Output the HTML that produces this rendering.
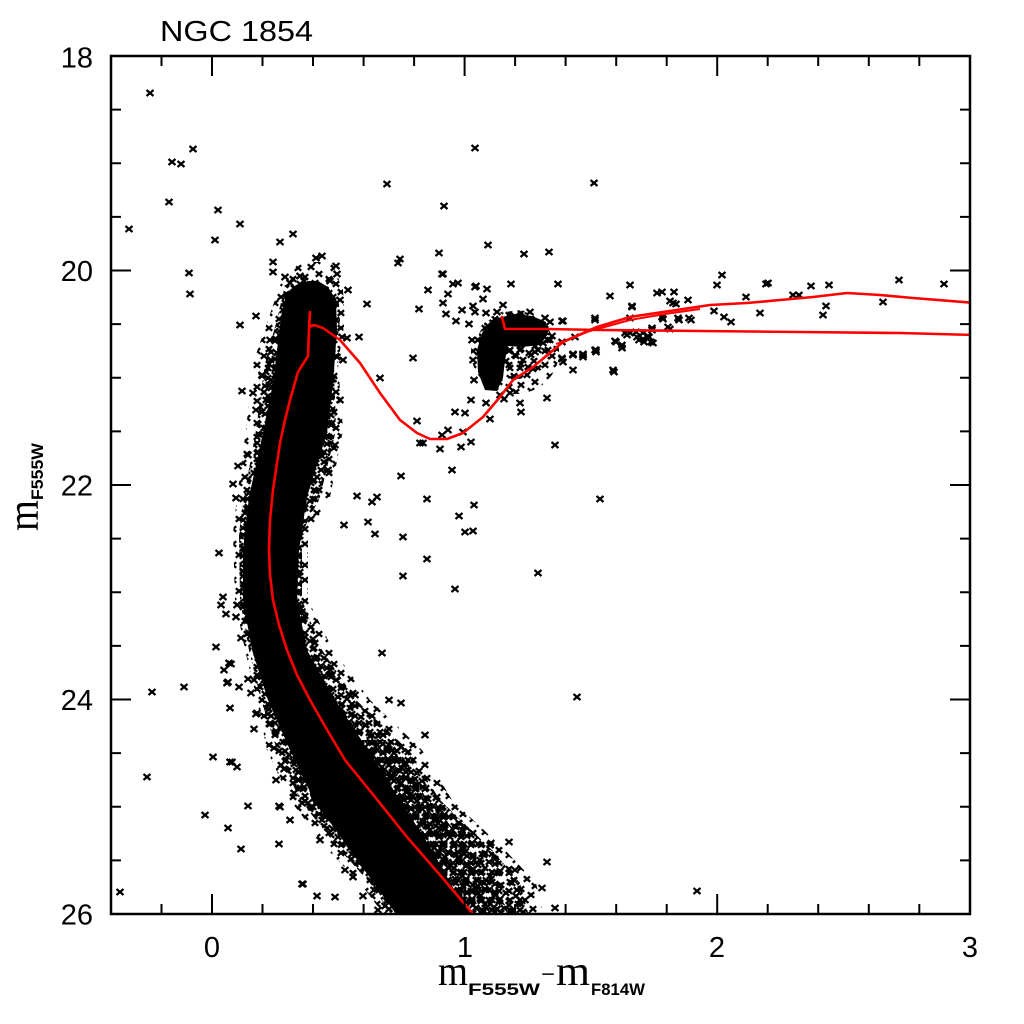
<!DOCTYPE html>
<html><head><meta charset="utf-8">
<style>
html,body{margin:0;padding:0;background:#fff;}
svg{display:block;}
</style></head>
<body>
<svg width="1024" height="1024" viewBox="0 0 1024 1024" xmlns="http://www.w3.org/2000/svg" xmlns:xlink="http://www.w3.org/1999/xlink">
<rect x="0" y="0" width="1024" height="1024" fill="#fff"/>
<defs>
  <clipPath id="cp"><rect x="111" y="56" width="859" height="858"/></clipPath>
  <path id="m" d="M-3.5,-3l7,6m-7,0l7,-6" stroke="#000" stroke-width="2.2" fill="none"/>
  <pattern id="pA" width="36" height="36" patternUnits="userSpaceOnUse">
    <path fill="none" stroke="#000" stroke-width="2.3" d="M1.8,2.2l6.4,5.6m-6.4,0l6.4,-5.6M13.8,1.2l6.4,5.6m-6.4,0l6.4,-5.6M25.8,6.2l6.4,5.6m-6.4,0l6.4,-5.6M6.8,13.2l6.4,5.6m-6.4,0l6.4,-5.6M19.8,12.2l6.4,5.6m-6.4,0l6.4,-5.6M27.8,19.2l6.4,5.6m-6.4,0l6.4,-5.6M1.8,24.2l6.4,5.6m-6.4,0l6.4,-5.6M13.8,22.2l6.4,5.6m-6.4,0l6.4,-5.6M23.8,28.2l6.4,5.6m-6.4,0l6.4,-5.6M8.8,29.2l6.4,5.6m-6.4,0l6.4,-5.6"/>
  </pattern>
  <pattern id="pA2" width="36" height="36" patternUnits="userSpaceOnUse" patternTransform="translate(17,13)">
    <path fill="none" stroke="#000" stroke-width="2.3" d="M1.8,2.2l6.4,5.6m-6.4,0l6.4,-5.6M13.8,1.2l6.4,5.6m-6.4,0l6.4,-5.6M25.8,6.2l6.4,5.6m-6.4,0l6.4,-5.6M6.8,13.2l6.4,5.6m-6.4,0l6.4,-5.6M19.8,12.2l6.4,5.6m-6.4,0l6.4,-5.6M27.8,19.2l6.4,5.6m-6.4,0l6.4,-5.6M1.8,24.2l6.4,5.6m-6.4,0l6.4,-5.6M13.8,22.2l6.4,5.6m-6.4,0l6.4,-5.6M23.8,28.2l6.4,5.6m-6.4,0l6.4,-5.6M8.8,29.2l6.4,5.6m-6.4,0l6.4,-5.6"/>
  </pattern>
  <pattern id="pB" width="28" height="28" patternUnits="userSpaceOnUse">
    <path fill="none" stroke="#000" stroke-width="2.3" d="M1.8,2.2l6.4,5.6m-6.4,0l6.4,-5.6M10.8,5.2l6.4,5.6m-6.4,0l6.4,-5.6M19.8,2.2l6.4,5.6m-6.4,0l6.4,-5.6M4.8,12.2l6.4,5.6m-6.4,0l6.4,-5.6M15.8,13.2l6.4,5.6m-6.4,0l6.4,-5.6M19.8,20.2l6.4,5.6m-6.4,0l6.4,-5.6M1.8,20.2l6.4,5.6m-6.4,0l6.4,-5.6M9.8,19.2l6.4,5.6m-6.4,0l6.4,-5.6"/>
  </pattern>
  <pattern id="pB2" width="28" height="28" patternUnits="userSpaceOnUse" patternTransform="translate(11,9)">
    <path fill="none" stroke="#000" stroke-width="2.3" d="M1.8,2.2l6.4,5.6m-6.4,0l6.4,-5.6M10.8,5.2l6.4,5.6m-6.4,0l6.4,-5.6M19.8,2.2l6.4,5.6m-6.4,0l6.4,-5.6M4.8,12.2l6.4,5.6m-6.4,0l6.4,-5.6M15.8,13.2l6.4,5.6m-6.4,0l6.4,-5.6M19.8,20.2l6.4,5.6m-6.4,0l6.4,-5.6M1.8,20.2l6.4,5.6m-6.4,0l6.4,-5.6M9.8,19.2l6.4,5.6m-6.4,0l6.4,-5.6"/>
  </pattern>
  <pattern id="pB3" width="28" height="28" patternUnits="userSpaceOnUse" patternTransform="translate(5,17)">
    <path fill="none" stroke="#000" stroke-width="2.3" d="M1.8,2.2l6.4,5.6m-6.4,0l6.4,-5.6M10.8,5.2l6.4,5.6m-6.4,0l6.4,-5.6M19.8,2.2l6.4,5.6m-6.4,0l6.4,-5.6M4.8,12.2l6.4,5.6m-6.4,0l6.4,-5.6M15.8,13.2l6.4,5.6m-6.4,0l6.4,-5.6M19.8,20.2l6.4,5.6m-6.4,0l6.4,-5.6M1.8,20.2l6.4,5.6m-6.4,0l6.4,-5.6M9.8,19.2l6.4,5.6m-6.4,0l6.4,-5.6"/>
  </pattern>
</defs>

<g clip-path="url(#cp)">
  <!-- main sequence halo -->
  <polygon fill="url(#pA)" points="300,262 280,285 268,320 253,363 246,430 237,497 233,533 235,600 245,650 257,700 267,750 290,800 328,850 360,883 388,920 545,920 536,883 505,850 452,800 422,750 370,700 333,650 308,600 308,533 330,497 343,430 338,363 345,320 343,290 332,262"/>
  <!-- middle -->
  <polygon fill="url(#pB)" points="285,285 277,320 265,363 256,430 244,497 239,533 240,600 249,650 261,700 277,750 300,800 340,850 370,883 395,920 530,920 520,883 492,850 440,800 408,750 356,700 322,650 302,600 302,533 320,497 336,430 334,363 340,320 338,290"/>
  <polygon fill="url(#pB2)" points="285,285 277,320 265,363 256,430 244,497 239,533 240,600 249,650 261,700 277,750 300,800 340,850 370,883 395,920 530,920 520,883 492,850 440,800 408,750 356,700 322,650 302,600 302,533 320,497 336,430 334,363 340,320 338,290"/>
  <!-- lower dense -->
  <polygon fill="url(#pA2)" points="290,740 312,800 352,850 385,890 398,920 515,920 495,890 470,850 430,800 392,740"/>
  <polygon fill="url(#pB3)" points="290,740 312,800 352,850 385,890 398,920 515,920 495,890 470,850 430,800 392,740"/>
  <!-- core -->
  <polygon fill="#000" points="308,281 296,285 286,295 281,317 273,383 263,433 249,497 243,550 243,600 252,650 268,700 290,750 314,800 350,850 386,900 396,914 476,914 460,900 432,850 400,800 368,750 335,700 307,650 297,600 299,550 307,497 327,433 333,383 337,330 336,300 328,287 318,281"/>
  <!-- red clump -->
  <ellipse cx="515" cy="352" rx="44" ry="42" fill="url(#pA)"/>
  <ellipse cx="515" cy="345" rx="38" ry="34" fill="url(#pB2)"/>
  <polygon fill="#000" points="498,318 515,314 532,316 546,322 548,334 540,345 522,347 508,346 505,360 503,378 497,391 485,390 478,372 477,350 482,333 490,323"/>

  <!-- individual stars -->
  <g>
<use href="#m" x="150" y="93"/><use href="#m" x="193" y="149"/><use href="#m" x="172" y="162"/><use href="#m" x="181" y="164"/><use href="#m" x="169" y="202"/><use href="#m" x="218" y="210"/><use href="#m" x="129" y="229"/><use href="#m" x="240" y="224"/><use href="#m" x="215" y="240"/><use href="#m" x="189" y="273"/><use href="#m" x="190" y="294"/>
<use href="#m" x="280" y="242"/><use href="#m" x="293" y="234"/><use href="#m" x="273" y="262"/><use href="#m" x="273" y="272"/><use href="#m" x="285" y="277"/><use href="#m" x="304" y="281"/><use href="#m" x="316" y="258"/><use href="#m" x="322" y="256"/><use href="#m" x="336" y="266"/><use href="#m" x="337" y="274"/><use href="#m" x="348" y="290"/><use href="#m" x="367" y="304"/><use href="#m" x="240" y="325"/><use href="#m" x="256" y="316"/><use href="#m" x="337" y="357"/><use href="#m" x="343" y="360"/><use href="#m" x="342" y="337"/><use href="#m" x="347" y="338"/><use href="#m" x="359" y="337"/><use href="#m" x="333" y="379"/><use href="#m" x="242" y="391"/><use href="#m" x="253" y="393"/><use href="#m" x="238" y="466"/><use href="#m" x="233" y="484"/><use href="#m" x="236" y="498"/>
<use href="#m" x="296" y="292"/><use href="#m" x="310" y="286"/><use href="#m" x="325" y="290"/><use href="#m" x="318" y="300"/><use href="#m" x="288" y="300"/><use href="#m" x="270" y="340"/><use href="#m" x="262" y="375"/><use href="#m" x="256" y="410"/><use href="#m" x="340" y="400"/><use href="#m" x="335" y="445"/><use href="#m" x="328" y="470"/><use href="#m" x="248" y="455"/><use href="#m" x="300" y="276"/><use href="#m" x="290" y="283"/><use href="#m" x="330" y="281"/><use href="#m" x="340" y="300"/>
<use href="#m" x="387" y="184"/><use href="#m" x="444" y="206"/><use href="#m" x="475" y="148"/><use href="#m" x="594" y="183"/><use href="#m" x="400" y="259"/><use href="#m" x="398" y="263"/><use href="#m" x="439" y="253"/><use href="#m" x="442" y="274"/><use href="#m" x="458" y="283"/><use href="#m" x="488" y="245"/><use href="#m" x="524" y="254"/><use href="#m" x="549" y="252"/><use href="#m" x="511" y="284"/><use href="#m" x="558" y="284"/><use href="#m" x="476" y="286"/><use href="#m" x="443" y="274"/><use href="#m" x="428" y="290"/><use href="#m" x="453" y="284"/><use href="#m" x="448" y="294"/><use href="#m" x="443" y="303"/><use href="#m" x="475" y="287"/><use href="#m" x="487" y="289"/><use href="#m" x="483" y="299"/><use href="#m" x="473" y="306"/><use href="#m" x="475" y="312"/><use href="#m" x="462" y="310"/><use href="#m" x="446" y="314"/><use href="#m" x="456" y="321"/><use href="#m" x="469" y="324"/><use href="#m" x="486" y="313"/><use href="#m" x="503" y="305"/><use href="#m" x="419" y="309"/><use href="#m" x="563" y="321"/><use href="#m" x="595" y="318"/><use href="#m" x="595" y="350"/><use href="#m" x="562" y="358"/><use href="#m" x="573" y="355"/><use href="#m" x="583" y="355"/><use href="#m" x="563" y="362"/><use href="#m" x="573" y="370"/><use href="#m" x="547" y="398"/><use href="#m" x="520" y="403"/><use href="#m" x="521" y="412"/><use href="#m" x="510" y="393"/><use href="#m" x="504" y="399"/><use href="#m" x="486" y="403"/><use href="#m" x="471" y="400"/><use href="#m" x="490" y="419"/><use href="#m" x="455" y="412"/><use href="#m" x="465" y="413"/><use href="#m" x="448" y="430"/><use href="#m" x="442" y="435"/><use href="#m" x="463" y="432"/><use href="#m" x="471" y="442"/><use href="#m" x="461" y="447"/><use href="#m" x="440" y="449"/><use href="#m" x="420" y="443"/><use href="#m" x="423" y="443"/><use href="#m" x="417" y="421"/><use href="#m" x="380" y="378"/><use href="#m" x="413" y="358"/><use href="#m" x="401" y="476"/><use href="#m" x="452" y="470"/><use href="#m" x="555" y="445"/><use href="#m" x="427" y="499"/><use href="#m" x="474" y="505"/><use href="#m" x="459" y="516"/><use href="#m" x="357" y="496"/><use href="#m" x="377" y="497"/><use href="#m" x="372" y="502"/><use href="#m" x="368" y="522"/><use href="#m" x="344" y="525"/><use href="#m" x="600" y="499"/>
<use href="#m" x="375" y="534"/><use href="#m" x="403" y="537"/><use href="#m" x="465" y="532"/><use href="#m" x="473" y="531"/><use href="#m" x="427" y="559"/><use href="#m" x="403" y="576"/><use href="#m" x="455" y="589"/><use href="#m" x="538" y="573"/><use href="#m" x="219" y="553"/><use href="#m" x="382" y="653"/><use href="#m" x="577" y="697"/><use href="#m" x="389" y="700"/><use href="#m" x="401" y="703"/><use href="#m" x="216" y="647"/><use href="#m" x="223" y="597"/><use href="#m" x="213" y="757"/><use href="#m" x="205" y="815"/><use href="#m" x="228" y="828"/><use href="#m" x="241" y="849"/><use href="#m" x="248" y="806"/><use href="#m" x="279" y="806"/><use href="#m" x="279" y="844"/><use href="#m" x="303" y="884"/><use href="#m" x="317" y="896"/><use href="#m" x="335" y="897"/><use href="#m" x="353" y="877"/><use href="#m" x="363" y="896"/><use href="#m" x="374" y="890"/><use href="#m" x="385" y="906"/><use href="#m" x="425" y="735"/><use href="#m" x="509" y="842"/><use href="#m" x="547" y="862"/><use href="#m" x="542" y="888"/><use href="#m" x="555" y="908"/><use href="#m" x="230" y="708"/><use href="#m" x="230" y="762"/><use href="#m" x="237" y="767"/><use href="#m" x="257" y="713"/><use href="#m" x="254" y="729"/><use href="#m" x="227" y="683"/><use href="#m" x="229" y="663"/><use href="#m" x="239" y="687"/>
<use href="#m" x="221" y="605"/><use href="#m" x="226" y="614"/><use href="#m" x="236" y="617"/><use href="#m" x="237" y="605"/><use href="#m" x="241" y="638"/><use href="#m" x="224" y="670"/><use href="#m" x="231" y="664"/><use href="#m" x="228" y="682"/><use href="#m" x="184" y="687"/><use href="#m" x="152" y="692"/><use href="#m" x="248" y="679"/><use href="#m" x="254" y="680"/><use href="#m" x="251" y="693"/><use href="#m" x="256" y="714"/><use href="#m" x="270" y="724"/><use href="#m" x="274" y="748"/><use href="#m" x="232" y="762"/><use href="#m" x="284" y="769"/><use href="#m" x="289" y="755"/><use href="#m" x="147" y="777"/><use href="#m" x="294" y="793"/><use href="#m" x="298" y="780"/><use href="#m" x="302" y="803"/><use href="#m" x="308" y="803"/><use href="#m" x="280" y="807"/><use href="#m" x="302" y="884"/><use href="#m" x="120" y="892"/><use href="#m" x="697" y="891"/>
<use href="#m" x="340" y="720"/><use href="#m" x="372" y="735"/><use href="#m" x="395" y="760"/><use href="#m" x="415" y="785"/><use href="#m" x="440" y="810"/><use href="#m" x="462" y="830"/><use href="#m" x="490" y="845"/><use href="#m" x="515" y="870"/><use href="#m" x="525" y="900"/><use href="#m" x="330" y="670"/><use href="#m" x="355" y="695"/><use href="#m" x="276" y="780"/><use href="#m" x="290" y="820"/><use href="#m" x="320" y="840"/><use href="#m" x="345" y="870"/><use href="#m" x="378" y="910"/>
<use href="#m" x="583" y="357"/><use href="#m" x="596" y="352"/><use href="#m" x="595" y="320"/><use href="#m" x="610" y="296"/><use href="#m" x="630" y="285"/><use href="#m" x="632" y="307"/><use href="#m" x="614" y="372"/><use href="#m" x="616" y="342"/><use href="#m" x="622" y="348"/><use href="#m" x="627" y="335"/><use href="#m" x="636" y="332"/><use href="#m" x="639" y="340"/><use href="#m" x="644" y="342"/><use href="#m" x="649" y="337"/><use href="#m" x="652" y="330"/><use href="#m" x="653" y="343"/><use href="#m" x="657" y="293"/><use href="#m" x="662" y="292"/><use href="#m" x="674" y="292"/><use href="#m" x="670" y="301"/><use href="#m" x="676" y="304"/><use href="#m" x="663" y="319"/><use href="#m" x="670" y="329"/><use href="#m" x="679" y="320"/><use href="#m" x="688" y="300"/><use href="#m" x="691" y="320"/><use href="#m" x="717" y="285"/><use href="#m" x="722" y="275"/><use href="#m" x="714" y="311"/><use href="#m" x="724" y="317"/><use href="#m" x="731" y="322"/><use href="#m" x="746" y="297"/><use href="#m" x="760" y="313"/><use href="#m" x="766" y="284"/><use href="#m" x="768" y="283"/><use href="#m" x="793" y="295"/><use href="#m" x="799" y="295"/><use href="#m" x="811" y="286"/><use href="#m" x="829" y="285"/><use href="#m" x="826" y="306"/><use href="#m" x="823" y="315"/><use href="#m" x="883" y="302"/><use href="#m" x="899" y="280"/><use href="#m" x="944" y="284"/>
<use href="#m" x="632" y="306"/><use href="#m" x="673" y="303"/><use href="#m" x="562" y="321"/><use href="#m" x="630" y="318"/><use href="#m" x="662" y="317"/><use href="#m" x="678" y="318"/><use href="#m" x="689" y="318"/><use href="#m" x="668" y="327"/><use href="#m" x="652" y="328"/><use href="#m" x="630" y="333"/><use href="#m" x="625" y="333"/><use href="#m" x="615" y="341"/><use href="#m" x="622" y="345"/><use href="#m" x="637" y="337"/><use href="#m" x="643" y="339"/><use href="#m" x="648" y="336"/><use href="#m" x="651" y="342"/><use href="#m" x="643" y="333"/><use href="#m" x="562" y="342"/><use href="#m" x="575" y="337"/><use href="#m" x="573" y="354"/><use href="#m" x="583" y="354"/><use href="#m" x="596" y="350"/><use href="#m" x="562" y="359"/><use href="#m" x="613" y="370"/><use href="#m" x="543" y="343"/>
<use href="#m" x="550" y="322"/><use href="#m" x="552" y="336"/><use href="#m" x="497" y="312"/><use href="#m" x="530" y="312"/><use href="#m" x="472" y="340"/><use href="#m" x="473" y="360"/><use href="#m" x="474" y="380"/><use href="#m" x="500" y="395"/><use href="#m" x="535" y="352"/><use href="#m" x="515" y="355"/><use href="#m" x="488" y="326"/><use href="#m" x="479" y="352"/><use href="#m" x="545" y="318"/>
  </g>

  <!-- isochrone -->
  <path fill="none" stroke="#ff0000" stroke-width="2.6" stroke-linejoin="round" stroke-linecap="round"
    d="M473,914 L440,875 L407,837 L375,797 L345,760 L326,728 L310,700 L297,675 L287,650 L279,625 L273,600 L270,575 L269,550 L270,520 L273,490 L277,463 L280,443 L285,420 L290,400 L298,372 L308,356 L309,330 L310,312 L309,327 L314,325 L323,328 L340,340 L360,363 L380,393 L400,420 L417,433 L430,439 L447,439 L463,433 L483,417 L500,397 L513,380 L533,367 L563,342 L597,327 L630,317 L663,312 L710,305 L747,303 L780,300 L813,297 L847,293 L880,295 L913,298 L975,303"/>
  <path fill="none" stroke="#ff0000" stroke-width="2.6" stroke-linejoin="round" stroke-linecap="round"
    d="M502,317 L505,329 L547,329 L600,330 L700,331 L800,332 L900,333 L975,335"/>
  <path fill="none" stroke="#ff0000" stroke-width="2" stroke-linejoin="round"
    d="M556,344 L590,331 L630,320 L665,314 L700,309"/>
</g>

<!-- frame -->
<rect x="111" y="56" width="859" height="858" fill="none" stroke="#000" stroke-width="2.5"/>
<path fill="none" stroke="#000" stroke-width="2" d="
M161.5,914v-10M161.5,56v10
M212,914v-20M212,56v20
M262.5,914v-10M262.5,56v10
M313,914v-10M313,56v10
M363.6,914v-10M363.6,56v10
M414.1,914v-10M414.1,56v10
M464.6,914v-20M464.6,56v20
M515.1,914v-10M515.1,56v10
M565.6,914v-10M565.6,56v10
M616.2,914v-10M616.2,56v10
M666.7,914v-10M666.7,56v10
M717.2,914v-20M717.2,56v20
M767.7,914v-10M767.7,56v10
M818.2,914v-10M818.2,56v10
M868.8,914v-10M868.8,56v10
M919.3,914v-10M919.3,56v10
M111,109.6h10M970,109.6h-10
M111,163.3h10M970,163.3h-10
M111,216.9h10M970,216.9h-10
M111,270.5h20M970,270.5h-20
M111,324.1h10M970,324.1h-10
M111,377.8h10M970,377.8h-10
M111,431.4h10M970,431.4h-10
M111,485h20M970,485h-20
M111,538.6h10M970,538.6h-10
M111,592.3h10M970,592.3h-10
M111,645.9h10M970,645.9h-10
M111,699.5h20M970,699.5h-20
M111,753.1h10M970,753.1h-10
M111,806.8h10M970,806.8h-10
M111,860.4h10M970,860.4h-10"/>

<g font-family="'Liberation Sans', sans-serif" font-size="29" fill="#000">
  <text x="160" y="41" textLength="153" lengthAdjust="spacingAndGlyphs">NGC 1854</text>
  <text x="93" y="67.5" text-anchor="end">18</text>
  <text x="93" y="281" text-anchor="end">20</text>
  <text x="93" y="495.5" text-anchor="end">22</text>
  <text x="93" y="710" text-anchor="end">24</text>
  <text x="93" y="924.5" text-anchor="end">26</text>
  <text x="212" y="957" text-anchor="middle">0</text>
  <text x="465" y="957" text-anchor="middle">1</text>
  <text x="717" y="957" text-anchor="middle">2</text>
  <text x="970" y="957" text-anchor="middle">3</text>
</g>

<!-- x-axis title -->
<g fill="#000">
  <text x="438" y="985" font-family="'Liberation Serif', serif" font-size="42" textLength="30" lengthAdjust="spacingAndGlyphs">m</text>
  <text x="468" y="995" font-family="'Liberation Sans', sans-serif" font-weight="bold" font-size="17" textLength="72" lengthAdjust="spacingAndGlyphs">F555W</text>
  <text x="541" y="984" font-family="'Liberation Serif', serif" font-size="30" textLength="14" lengthAdjust="spacingAndGlyphs">−</text>
  <text x="556" y="985" font-family="'Liberation Serif', serif" font-size="42" textLength="34" lengthAdjust="spacingAndGlyphs">m</text>
  <text x="591" y="995" font-family="'Liberation Sans', sans-serif" font-weight="bold" font-size="17" textLength="54" lengthAdjust="spacingAndGlyphs">F814W</text>
</g>

<!-- y-axis title -->
<g fill="#000" transform="translate(38,531) rotate(-90)">
  <text x="0" y="0" font-family="'Liberation Serif', serif" font-size="44" textLength="31" lengthAdjust="spacingAndGlyphs">m</text>
  <text x="31" y="5" font-family="'Liberation Sans', sans-serif" font-weight="bold" font-size="17" textLength="57" lengthAdjust="spacingAndGlyphs">F555W</text>
</g>
</svg>
</body></html>
